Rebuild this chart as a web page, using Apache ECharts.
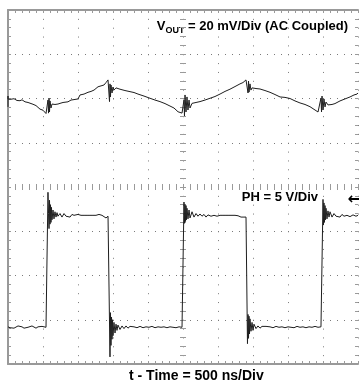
<!DOCTYPE html>
<html>
<head>
<meta charset="utf-8">
<script src="https://cdn.jsdelivr.net/npm/echarts@6/dist/echarts.min.js"></script>
<style>
  html, body { margin: 0; padding: 0; background: #fff; }
  #chart { width: 359px; height: 385px; }
</style>
</head>
<body>
<div id="chart"></div>
<script>
// Output ripple (AC coupled), time in ns and voltage in mV
const vOutTimeNs = [0, 0, 0, 29, 86, 129, 171, 200, 243, 286, 314, 357, 400, 457, 500, 543, 557,
  571, 579, 586, 593, 600, 614, 629, 643, 671, 714, 743, 786, 814, 857, 900, 943, 1000, 1014,
  1029, 1086, 1143, 1186, 1229, 1286, 1329, 1371, 1400, 1429, 1443,
  1450, 1457, 1464, 1471, 1486, 1500, 1514, 1543, 1571, 1600, 1671, 1743, 1800, 1857, 1943, 2029,
  2100, 2171, 2243, 2314, 2371, 2429, 2486, 2500,
  2514, 2521, 2529, 2543, 2557, 2571, 2586, 2600, 2629, 2686, 2743, 2814, 2886, 2957, 3029, 3100,
  3171, 3243, 3314, 3357, 3400, 3414,
  3429, 3436, 3443, 3457, 3471, 3486, 3543, 3600, 3671, 3743, 3814, 3886, 3957, 4029, 4100, 4171,
  4243, 4314, 4386, 4429, 4457,
  4471, 4479, 4486, 4500, 4514, 4529, 4543, 4571, 4629, 4671, 4743, 4814, 4886, 4943, 4986, 5000];
const vOutMv = [-3.8, 1.1, -0.2, -0.4, -0.1, -0.9, -1.0, -0.6, -1.5, -1.8, -1.7, -2.6, -3.2, -4.8, -5.3, -6.8, -7.0,
  -0.7, -6.6, 0.2, -6.1, -1.1, -4.3, -2.5, -3.4, -2.7, -2.5, -2.2, -1.8, -1.1, -1.5, -0.7, -0.5, -0.2, 0.0,
  1.6, 2.0, 2.8, 3.2, 3.8, 5.3, 5.7, 6.1, 7.2, 8.4, 7.9,
  -1.4, 6.6, 0.7, 6.1, 2.5, 5.2, 3.8, 4.8, 4.5, 4.2, 3.6, 3.1, 2.7, 2.0, 1.1, 0.1,
  -0.7, -1.4, -2.3, -3.4, -4.3, -6.0, -6.6, -7.0,
  -0.7, -7.9, 1.6, -6.1, 0.7, -5.2, -0.7, -4.3, -2.2, -1.8, -1.4, -0.7, 0.1, 0.9, 2.0, 3.2,
  4.2, 5.4, 6.6, 7.2, 8.4, 8.8,
  2.5, 7.9, 2.9, 6.6, 3.8, 4.8, 4.5, 4.3, 3.6, 2.8, 1.8, 0.7, 0.5, 0.0, -1.1, -2.0,
  -2.7, -3.7, -5.2, -6.1, -6.6,
  0.2, -6.1, 1.1, -5.2, -0.2, -3.8, -1.6, -2.9, -2.7, -2.3, -1.1, -0.2, 0.7, 1.6, 2.0, 2.5];

// Switch node (PH), time in ns and voltage in V
const phTimeNs = [0, 29, 57, 86, 114, 143, 171, 200, 229, 257, 286, 314, 343, 371, 400, 429, 457, 486, 514, 543, 557,
  564, 571, 579, 586, 593, 600, 607, 614, 621, 629, 643, 657, 671, 686, 700, 714, 743, 771, 800, 829, 857,
  886, 914, 943, 971, 1000, 1043, 1086, 1129, 1171, 1214, 1257, 1300, 1343, 1371, 1400, 1429, 1443,
  1450, 1457, 1464, 1471, 1479, 1486, 1493, 1500, 1514, 1529, 1543, 1557, 1571, 1600, 1629, 1657, 1686,
  1714, 1743, 1771, 1800, 1843, 1886, 1929, 1971, 2014, 2057, 2100, 2143, 2186, 2229, 2271, 2314, 2357,
  2400, 2443, 2486, 2500,
  2507, 2514, 2521, 2529, 2536, 2543, 2550, 2557, 2571, 2586, 2600, 2629, 2657, 2686, 2714, 2743, 2771,
  2800, 2829, 2857, 2900, 2943, 2986, 3029, 3071, 3114, 3157, 3200, 3243, 3286, 3329, 3371, 3400, 3414,
  3421, 3429, 3436, 3443, 3450, 3457, 3471, 3486, 3500, 3514, 3543, 3571, 3600, 3629, 3657, 3686, 3714,
  3743, 3786, 3829, 3871, 3914, 3957, 4000, 4043, 4086, 4129, 4171, 4214, 4257, 4300, 4343, 4386, 4429,
  4471, 4486,
  4493, 4500, 4507, 4514, 4521, 4529, 4536, 4543, 4557, 4571, 4586, 4600, 4629, 4657, 4686, 4714, 4743,
  4771, 4800, 4843, 4886, 4929, 4971, 5000];
const phVolts = [-0.8, -0.9, -0.75, -0.95, -0.8, -0.7, -0.9, -0.8, -0.95, -0.75, -0.85, -0.9, -0.7, -0.85, -0.95, -0.8, -0.85, -0.75, -0.9, -0.85, -0.85,
  -0.8, 14.4, 12.0, 10.3, 13.5, 10.8, 13.0, 11.0, 12.7, 11.3, 12.4, 11.4, 12.2, 11.6, 12.1, 11.7, 12.0, 11.6, 12.0, 11.7, 11.9,
  11.6, 11.9, 11.8, 11.7, 11.9, 11.8, 11.8, 11.8, 11.8, 11.8, 11.8, 11.9, 11.8, 11.6, 11.5, 11.7, 11.6,
  11.5, -4.2, 0.8, -2.9, 0.3, -2.2, 0.0, -1.8, -0.3, -1.5, -0.5, -1.2, -0.6, -1.1, -0.7, -1.0, -0.7,
  -0.95, -0.75, -0.9, -0.8, -0.9, -0.75, -0.9, -0.8, -0.85, -0.75, -0.9, -0.8, -0.85, -0.8, -0.9, -0.8, -0.85,
  -0.9, -0.8, -0.85, -0.85,
  -0.8, 13.3, 10.9, 13.0, 11.1, 12.9, 11.3, 12.6, 11.4, 12.4, 11.5, 12.2, 11.6, 12.0, 11.7, 11.95, 11.7,
  11.9, 11.6, 11.85, 11.7, 11.8, 11.7, 11.8, 11.8, 11.8, 11.8, 11.8, 11.8, 11.75, 11.6, 11.6, 11.6, 11.6,
  -2.7, 0.6, -2.1, 0.4, -1.6, 0.1, -1.3, -0.3, -1.2, -0.5, -1.0, -0.7, -0.95, -0.75, -0.9, -0.75, -0.9,
  -0.8, -0.9, -0.75, -0.85, -0.8, -0.9, -0.8, -0.85, -0.9, -0.75, -0.85, -0.8, -0.9, -0.8, -0.85, -0.75, -0.85,
  -0.8, -0.85,
  -0.8, 13.6, 10.7, 13.2, 11.0, 12.9, 11.3, 12.6, 11.4, 12.3, 11.6, 12.2, 11.6, 12.0, 11.7, 11.9, 11.6,
  11.9, 11.7, 11.8, 11.65, 11.85, 11.7, 11.8];

// Scope scales: 500 ns/div over 10 divisions, 20 mV/div and 5 V/div over 8 divisions
const timeAxis = { min: 0, max: 5000, step: 500 };
const vOutAxis = { min: -120, max: 40, step: 20 };
const phAxis = { min: -5, max: 35, step: 5 };

const labelVout = ['V', 'OUT', ' = 20 mV/Div (AC Coupled)'];
const labelPh = 'PH = 5 V/Div';
const labelTime = 't - Time = 500 ns/Div';

const FONT = '"Liberation Sans", Arial, Helvetica, sans-serif';
const GRID = { left: 8, top: 10, width: 350, height: 354 };
const BORDER = '#999';
const DOT = '#7a7a7a';
const TICK = '#9a9a9a';

// dot pitch: one dot per fifth of a division
const DOT_X = GRID.width / 50;
const DOT_Y = GRID.height / 40;

function pairs(xs, ys) { return xs.map((x, i) => [x, ys[i]]); }

function ticks(inside) {
  return {
    axisTick: { show: true, inside: inside, length: 3, lineStyle: { color: TICK, width: 1 } },
    minorTick: { show: true, splitNumber: 5, length: 3, lineStyle: { color: TICK, width: 1 } }
  };
}

function scaleAxis(range, extra) {
  return Object.assign({
    type: 'value',
    min: range.min, max: range.max, interval: range.step,
    axisLabel: { show: false },
    axisLine: { show: false, onZero: false },
    splitLine: { show: false }
  }, ticks(true), extra);
}

const frameLine = { show: true, onZero: false, lineStyle: { color: BORDER, width: 2 } };

const chart = echarts.init(document.getElementById('chart'), null, { renderer: 'canvas' });

chart.setOption({
  animation: false,
  backgroundColor: '#fff',
  grid: GRID,
  xAxis: [
    scaleAxis(timeAxis, {
      position: 'bottom',
      axisLine: frameLine,
      splitLine: { show: true, lineStyle: { color: DOT, width: 1, type: [1, DOT_Y - 1], dashOffset: 0 } }
    }),
    scaleAxis(timeAxis, { position: 'top', axisLine: frameLine }),
    // centre horizontal line: ticks on both sides
    scaleAxis(timeAxis, { position: 'bottom', offset: -GRID.height / 2 }),
    scaleAxis(timeAxis, Object.assign({ position: 'bottom', offset: -GRID.height / 2 }, ticks(false)))
  ],
  yAxis: [
    scaleAxis(vOutAxis, {
      position: 'left',
      axisLine: frameLine,
      splitLine: { show: true, lineStyle: { color: DOT, width: 1, type: [1, DOT_X - 1], dashOffset: 0 } }
    }),
    scaleAxis(phAxis, { position: 'right' }),
    // centre vertical line: ticks on both sides
    scaleAxis(vOutAxis, { position: 'left', offset: -GRID.width / 2 }),
    scaleAxis(vOutAxis, Object.assign({ position: 'left', offset: -GRID.width / 2 }, ticks(false)))
  ],
  series: [
    {
      name: 'VOUT', type: 'line', xAxisIndex: 0, yAxisIndex: 0,
      data: pairs(vOutTimeNs, vOutMv),
      showSymbol: false, clip: true,
      lineStyle: { color: '#1e1e1e', width: 1 }
    },
    {
      name: 'PH', type: 'line', xAxisIndex: 0, yAxisIndex: 1,
      data: pairs(phTimeNs, phVolts),
      showSymbol: false, clip: true,
      lineStyle: { color: '#1e1e1e', width: 1 }
    }
  ],
  graphic: [
    {
      type: 'text', right: 11, top: 20,
      style: {
        text: '{v|' + labelVout[0] + '}{s|' + labelVout[1] + '}{n|' + labelVout[2] + '}',
        rich: {
          v: { fontFamily: FONT, fontWeight: 'bold', fontSize: 13, lineHeight: 17, verticalAlign: 'middle', fill: '#000' },
          s: { fontFamily: FONT, fontWeight: 'bold', fontSize: 9, lineHeight: 17, verticalAlign: 'bottom', padding: [6, 0, 0, 0], fill: '#000' },
          n: { fontFamily: FONT, fontWeight: 'bold', fontSize: 13, lineHeight: 17, verticalAlign: 'middle', fill: '#000' }
        }
      }
    },
    {
      type: 'text', right: 41, top: 191,
      style: { text: labelPh, fontFamily: FONT, fontWeight: 'bold', fontSize: 13, fill: '#000' }
    },
    {
      type: 'text', right: -2, top: 192,
      style: { text: '\u2190', fontFamily: '"DejaVu Sans", sans-serif', fontWeight: 'bold', fontSize: 16, fill: '#000' }
    },
    {
      type: 'text', left: 129, top: 369,
      style: { text: labelTime, fontFamily: FONT, fontWeight: 'bold', fontSize: 14, fill: '#000' }
    }
  ]
});
</script>
</body>
</html>
